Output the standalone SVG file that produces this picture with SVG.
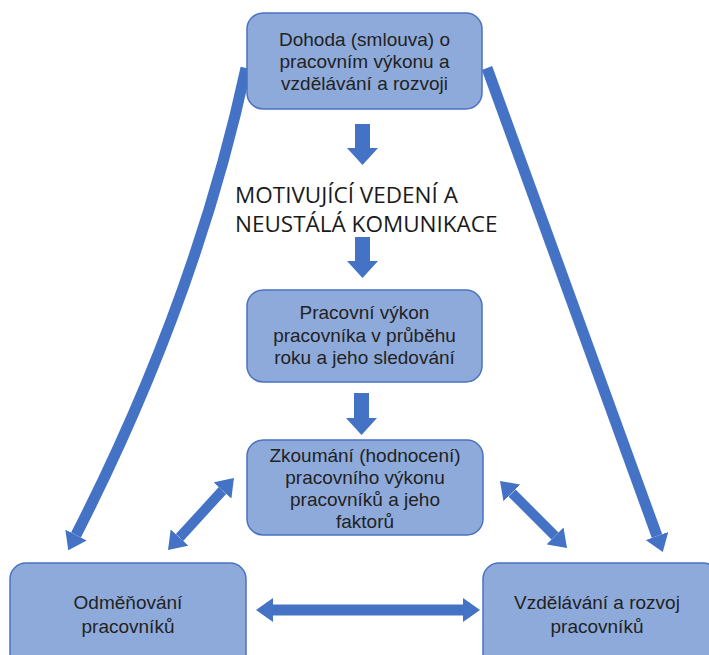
<svg xmlns="http://www.w3.org/2000/svg" width="709" height="655" viewBox="0 0 709 655">
<style>
.box{fill:#8eaadb;stroke:#4a72c0;stroke-width:1.5}
.t{font-family:"Liberation Sans",Arial,sans-serif;font-size:19px;fill:#222222;text-anchor:middle}
.title{font-family:"Open Sans","Liberation Sans",sans-serif;font-size:22.5px;fill:#1a1a1a}
.shaft{fill:none;stroke:#4472c4;stroke-width:11}
.thin{stroke-width:10}
.blk{fill:#4472c4}
</style>
<defs>
<marker id="head" markerUnits="userSpaceOnUse" markerWidth="18" markerHeight="24" refX="0" refY="12" viewBox="0 0 18 24" orient="auto-start-reverse">
<path d="M0,0 L17,12 L0,24 z" fill="#4472c4"/>
</marker>
</defs>
<rect width="709" height="655" fill="#ffffff"/>
<g id="connectors">
<path class="shaft" d="M246,68 Q196,300 76,535" marker-end="url(#head)"/>
<path class="shaft" d="M487,68 L657,536" marker-end="url(#head)"/>
<path class="shaft thin" d="M179.5,537.5 L222.5,490.5" marker-start="url(#head)" marker-end="url(#head)"/>
<path class="shaft thin" d="M512,493 L555,536" marker-start="url(#head)" marker-end="url(#head)"/>
<path class="shaft" d="M273,610 L463,610" marker-start="url(#head)" marker-end="url(#head)"/>
<polygon class="blk" points="355,124 370,124 370,148 378,148 362.5,165 347,148 355,148"/>
<polygon class="blk" points="355,237 370,237 370,261 378,261 362.5,278 347,261 355,261"/>
<polygon class="blk" points="354,393 369,393 369,418 377,418 361.5,435 346,418 354,418"/>
</g>
<g id="node-dohoda">
<rect class="box" x="247" y="13" width="235" height="96" rx="16"/>
<text class="t" x="364.5" y="46">Dohoda (smlouva) o</text>
<text class="t" x="364.5" y="68">pracovním výkonu a</text>
<text class="t" x="364.5" y="90">vzdělávání a rozvoji</text>
</g>
<g id="node-motivace">
<text class="title" x="235" y="203">MOTIVUJÍCÍ VEDENÍ A</text>
<text class="title" x="235" y="232">NEUSTÁLÁ KOMUNIKACE</text>
</g>
<g id="node-vykon">
<rect class="box" x="247" y="290" width="235" height="92" rx="16"/>
<text class="t" x="364.5" y="319">Pracovní výkon</text>
<text class="t" x="364.5" y="342">pracovníka v průběhu</text>
<text class="t" x="364.5" y="364">roku a jeho sledování</text>
</g>
<g id="node-zkoumani">
<rect class="box" x="247" y="440" width="236" height="95" rx="16"/>
<text class="t" x="365" y="462">Zkoumání (hodnocení)</text>
<text class="t" x="365" y="484">pracovního výkonu</text>
<text class="t" x="365" y="506">pracovníků a jeho</text>
<text class="t" x="365" y="528">faktorů</text>
</g>
<g id="node-odmenovani">
<rect class="box" x="10" y="563" width="236" height="110" rx="16"/>
<text class="t" x="128" y="609">Odměňování</text>
<text class="t" x="128" y="633">pracovníků</text>
</g>
<g id="node-vzdelavani">
<rect class="box" x="483" y="563" width="236" height="110" rx="16"/>
<text class="t" x="597" y="609">Vzdělávání a rozvoj</text>
<text class="t" x="597" y="633">pracovníků</text>
</g>
</svg>
